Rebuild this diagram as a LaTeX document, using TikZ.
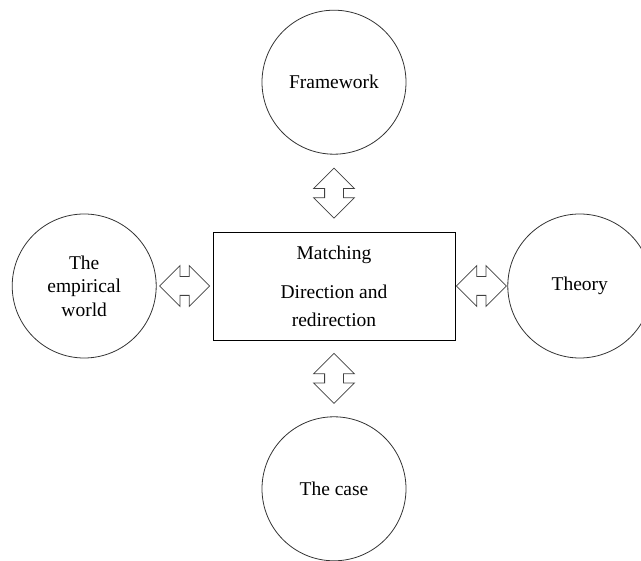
\documentclass[tikz,border=0pt]{standalone}
\usepackage{fontspec}
\setmainfont{Liberation Serif}
\usetikzlibrary{positioning}
\usetikzlibrary{shapes.arrows}
\usetikzlibrary{calc}

\begin{document}
\begin{tikzpicture}[x=1pt,y=-1pt,
	every node/.style={font=\fontsize{19.5}{23.5}\selectfont},
	bubble/.style={draw=black!80, line width=0.8pt, circle, minimum size=144pt, inner sep=0pt, align=center},
	dblarr/.style={draw=black!75, line width=0.8pt, double arrow, double arrow tip angle=90, double arrow head extend=11pt, minimum height=50pt, inner xsep=0pt, inner ysep=9pt}]
		\useasboundingbox (0,0) rectangle (641,561);
		\node (match) [draw, line width=0.8pt, minimum width=242pt, minimum height=108pt, align=center] at (334,286) {Matching\\[16pt]Direction and\\[4pt]redirection};
		\node (frame) [bubble, above = 77pt of match] {Framework};
		\node (case) [bubble, below = 76pt of match] {The case};
		\node (emp) [bubble, left = 56pt of match] {The\\empirical\\world};
		\node (theo) [bubble, right = 52pt of match] {Theory};
		\node (a1) [dblarr, rotate=90] at ($(frame.south)!0.5!(match.north)$) {};
		\node (a2) [dblarr, rotate=90] at ($(match.south)!0.5!(case.north)$) {};
		\node (a3) [dblarr] at ($(emp.east)!0.5!(match.west)$) {};
		\node (a4) [dblarr] at ($(match.east)!0.5!(theo.west)$) {};
\end{tikzpicture}
\end{document}
